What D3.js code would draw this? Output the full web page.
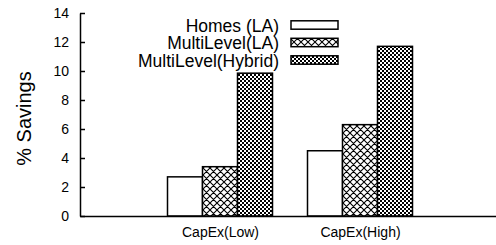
<!DOCTYPE html>
<html><head><meta charset="utf-8">
<script src="https://cdn.jsdelivr.net/npm/d3@7"></script>
<style>body{margin:0;background:#fff}svg{display:block}text{font-family:"Liberation Sans",Arial,Helvetica,sans-serif;fill:#000}</style>
</head><body>
<script>
const categories = ["CapEx(Low)", "CapEx(High)"];
const series = ["Homes (LA)", "MultiLevel(LA)", "MultiLevel(Hybrid)"];
const homesLA = [2.7, 4.5];
const multiLevelLA = [3.4, 6.3];
const multiLevelHybrid = [9.85, 11.7];
const yTicks = [0, 2, 4, 6, 8, 10, 12, 14];
const values = [homesLA, multiLevelLA, multiLevelHybrid];

const W = 496, H = 245;
const svg = d3.select("body").append("svg").attr("width", W).attr("height", H);
const defs = svg.append("defs");

// patterns
const p1 = defs.append("pattern").attr("id","cross").attr("patternUnits","userSpaceOnUse")
  .attr("width",7).attr("height",7);
p1.append("rect").attr("width",7).attr("height",7).attr("fill","#fff");
p1.append("path").attr("d","M0,0L7,7M7,0L0,7M-1,6L1,8M6,-1L8,1M-1,1L1,-1M6,8L8,6")
  .attr("stroke","#000").attr("stroke-width",1.1);
const p2 = defs.append("pattern").attr("id","dense").attr("patternUnits","userSpaceOnUse")
  .attr("width",4).attr("height",4);
p2.append("rect").attr("width",4).attr("height",4).attr("fill","#fff");
p2.append("rect").attr("width",2).attr("height",2).attr("fill","#000");
p2.append("rect").attr("x",2).attr("y",2).attr("width",2).attr("height",2).attr("fill","#000");
const fills = ["#fff", "url(#cross)", "url(#dense)"];

const x = d3.scaleLinear().domain([0, 3]).range([80, 500]);
const y = d3.scaleLinear().domain([0, 14]).range([216, 13]);
const bw = (x(1) - x(0)) * 0.25;

// bars
series.forEach((s, si) => {
  svg.append("g").selectAll("rect").data(values[si]).join("rect")
    .attr("x", (d, i) => x(i + 1) + (si - 1.5) * bw)
    .attr("y", d => y(d))
    .attr("width", bw)
    .attr("height", d => y(0) - y(d))
    .attr("fill", fills[si])
    .attr("stroke", "#000").attr("stroke-width", 1.5);
});

// y axis
const yAxis = d3.axisLeft(y).tickValues(yTicks).tickSizeInner(-5).tickSizeOuter(0).tickPadding(11);
const gy = svg.append("g").attr("transform", "translate(80,0)").call(yAxis);
gy.select(".domain").attr("stroke-width", 1.5);
gy.selectAll(".tick line").attr("stroke-width", 1.5);
gy.selectAll("text").style("font-size", "14px");

// x axis
const xAxis = d3.axisBottom(x).tickValues([1, 2]).tickFormat((d) => categories[d - 1]).tickSize(0).tickPadding(11);
const gx = svg.append("g").attr("transform", "translate(0,216)").call(xAxis);
gx.select(".domain").attr("stroke-width", 1.5);
gx.selectAll("text").style("font-size", "14px");

// y label
svg.append("text").attr("transform", "translate(31,118.5) rotate(-90)")
  .attr("text-anchor", "middle").style("font-size", "20px").text("% Savings");

// legend
const lg = svg.append("g");
series.forEach((s, si) => {
  const cy = 25 + si * 17.5;
  lg.append("text").attr("x", 279).attr("y", cy + 6.7).attr("text-anchor", "end")
    .style("font-size", "17.5px").text(s);
  lg.append("rect").attr("x", 291).attr("y", cy - 4.2).attr("width", 47).attr("height", 8.4)
    .attr("fill", fills[si]).attr("stroke", "#000").attr("stroke-width", 1.5);
});
</script>
</body></html>
